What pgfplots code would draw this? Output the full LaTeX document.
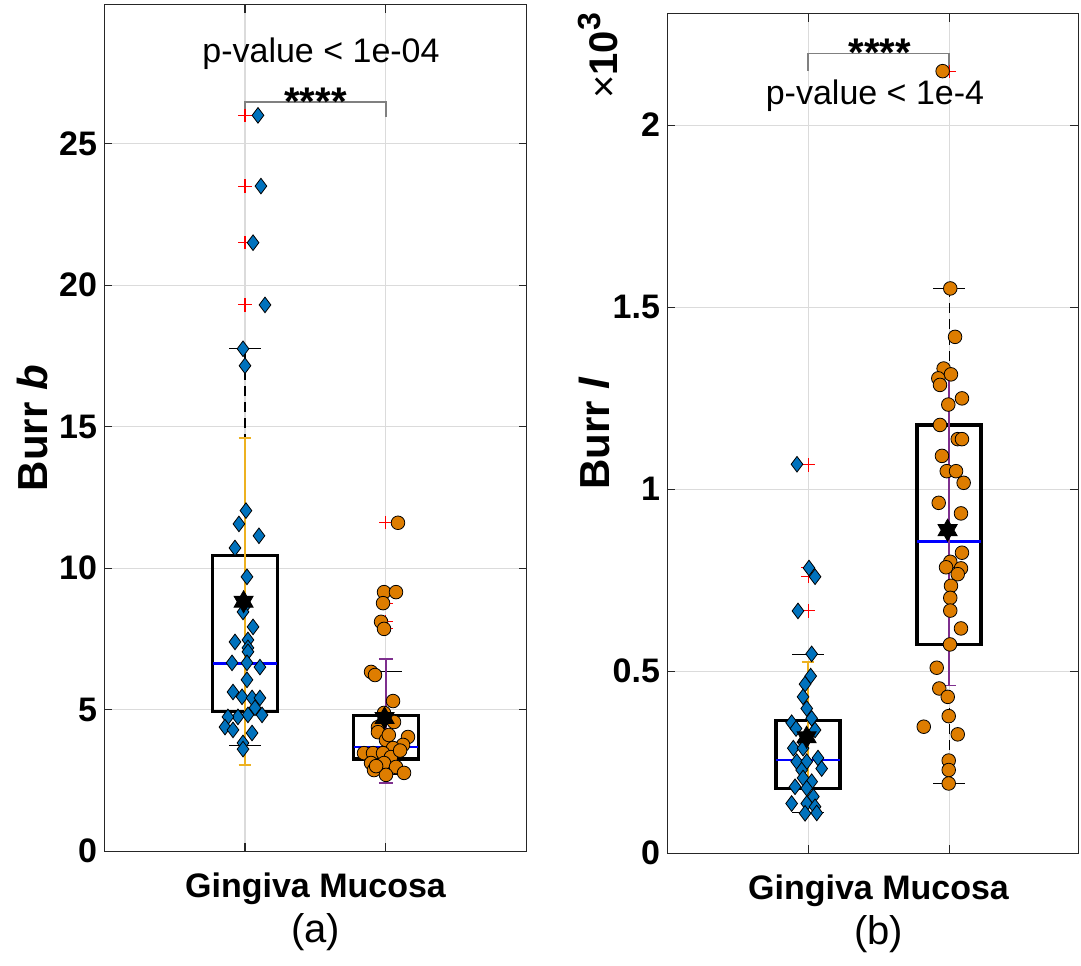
\documentclass[border=0pt]{standalone}
\usepackage{pgfplots}
\pgfplotsset{compat=1.18}
\usepackage{fontspec}
\setmainfont{Liberation Sans}
\definecolor{mblue}{RGB}{0,114,189}
\definecolor{morange}{RGB}{222,125,0}
\definecolor{myellow}{RGB}{237,177,32}
\definecolor{mpurple}{RGB}{126,47,142}
\definecolor{axgray}{RGB}{38,38,38}
\pgfdeclareplotmark{hexagram}{%
  \pgfpathmoveto{\pgfqpointpolar{90}{\pgfplotmarksize}}%
  \pgfpathlineto{\pgfqpointpolar{210}{\pgfplotmarksize}}%
  \pgfpathlineto{\pgfqpointpolar{330}{\pgfplotmarksize}}%
  \pgfpathclose
  \pgfpathmoveto{\pgfqpointpolar{270}{\pgfplotmarksize}}%
  \pgfpathlineto{\pgfqpointpolar{30}{\pgfplotmarksize}}%
  \pgfpathlineto{\pgfqpointpolar{150}{\pgfplotmarksize}}%
  \pgfpathclose
  \pgfusepathqfillstroke
}
\pgfplotsset{
  myaxis/.style={
    scale only axis, anchor=south west, clip=false,
    xmin=0, xtick={1,2}, xticklabels={,},
    axis line style={axgray, line width=0.5pt},
    tick style={axgray, line width=0.5pt},
    major tick length=4pt, tick align=inside,
    grid=major, major grid style={black!14, line width=0.5pt},
    yticklabel style={font=\bfseries\fontsize{17}{20}\selectfont},
    /pgf/number format/assume math mode=true,
  },
  mybox/.style={black, line width=1.6pt, line join=miter},
  mymed/.style={blue, line width=1.3pt},
  mywhisk/.style={black, line width=0.5pt, dash pattern=on 5pt off 3pt},
  mycap/.style={black, line width=0.5pt},
  myout/.style={only marks, mark=+, mark size=3.3pt, red, line width=0.5pt},
  mydia/.style={only marks, mark=diamond*, mark size=3.9pt, mark options={fill=mblue, draw=black, line width=0.4pt}},
  mycirc/.style={only marks, mark=*, mark size=3.4pt, mark options={fill=morange, draw=black, line width=0.4pt}},
  mystar/.style={only marks, mark=hexagram, mark size=5.5pt, mark options={fill=black, draw=black}},
  mybrack/.style={gray, line width=0.75pt},
}
\begin{document}
\begin{tikzpicture}
\path[use as bounding box] (0,0) rectangle (540.5pt,482.5pt);
% ---------------- panel (a)
\begin{axis}[myaxis, at={(52pt,57pt)}, width=211.5pt, height=423pt,
  xmax=3, ymin=0, ymax=29.9, ytick={0,5,10,15,20,25}]
% whiskers
\addplot[mywhisk] coordinates {(1,10.43) (1,17.75)};
\addplot[mywhisk] coordinates {(1,4.92) (1,3.72)};
\addplot[mycap] coordinates {(0.887,17.75) (1.113,17.75)};
\addplot[mycap] coordinates {(0.887,3.72) (1.113,3.72)};
\addplot[mywhisk] coordinates {(2,4.80) (2,6.33)};
\addplot[mywhisk] coordinates {(2,3.25) (2,2.69)};
\addplot[mycap] coordinates {(1.887,6.33) (2.113,6.33)};
\addplot[mycap] coordinates {(1.887,2.69) (2.113,2.69)};
% boxes
\addplot[mybox] coordinates {(1,4.92) (1.229,4.92) (1.229,10.43) (0.771,10.43) (0.771,4.92) (1,4.92)};
\addplot[mymed] coordinates {(0.771,6.62) (1.229,6.62)};
\addplot[mybox] coordinates {(2,3.25) (2.229,3.25) (2.229,4.80) (1.771,4.80) (1.771,3.25) (2,3.25)};
\addplot[mymed] coordinates {(1.771,3.68) (2.229,3.68)};
% outliers
\addplot[myout] coordinates {(1,26.0) (1,23.5) (1,21.5) (1,19.3) (2,11.6) (2,9.15) (2,8.76) (2,8.1) (2,7.85)};
% Gingiva points
\addplot[mydia] coordinates {
(1.092,26.0) (1.113,23.5) (1.057,21.5) (1.142,19.3) (0.986,17.75) (1.0,17.15)
(1.007,12.03) (0.957,11.56) (1.099,11.14) (0.929,10.71) (1.014,9.69)
(1.0,8.66) (0.986,8.45) (1.057,7.92) (0.929,7.39) (1.021,7.46) (1.021,7.18) (1.021,7.04)
(0.908,6.65) (1.014,6.65) (1.106,6.50) (1.014,6.05) (0.915,5.62) (0.979,5.45)
(1.050,5.41) (1.106,5.41) (1.071,5.06) (1.121,4.81) (1.021,4.81) (0.950,4.74)
(0.879,4.74) (0.858,4.38) (0.915,4.28) (1.050,4.17) (0.986,3.82) (0.986,3.60)};
% Mucosa points
\addplot[mycirc] coordinates {
(2.085,11.6) (1.986,9.15) (2.071,9.15) (1.979,8.76) (1.965,8.1) (1.986,7.85)
(1.894,6.33) (1.922,6.22) (2.050,5.30) (1.986,4.88) (2.057,4.56) (1.943,4.38)
(1.943,4.20) (2.156,4.03) (2.0,3.92) (2.121,3.75) (2.050,3.64) (1.844,3.46)
(1.908,3.46) (1.979,3.46) (2.035,3.32) (1.894,3.11) (1.986,3.11) (2.071,2.97)
(1.915,2.86) (2.0,2.69) (2.128,2.76) (2.10,3.55) (1.93,3.0) (2.02,4.1)};
% mean +- sd
\addplot[myellow, line width=0.8pt] coordinates {(1,3.05) (1,14.6)};
\addplot[myellow, line width=0.8pt] coordinates {(0.955,3.05) (1.045,3.05)};
\addplot[myellow, line width=0.8pt] coordinates {(0.955,14.6) (1.045,14.6)};
\addplot[mpurple, line width=0.8pt] coordinates {(2,2.41) (2,6.79)};
\addplot[mpurple, line width=0.8pt] coordinates {(1.95,2.41) (2.05,2.41)};
\addplot[mpurple, line width=0.8pt] coordinates {(1.95,6.79) (2.05,6.79)};
\addplot[mystar] coordinates {(0.99,8.81) (1.99,4.70)};
% bracket
\addplot[mybrack] coordinates {(1,25.95) (1,26.48) (2,26.48) (2,25.95)};
\node[anchor=base, font=\bfseries\fontsize{20}{20}\selectfont] at (axis cs:1.5,26.0) {****};
\node[anchor=base, font=\fontsize{17}{20}\selectfont] at (axis cs:1.539,27.87) {p-value < 1e-04};
\node[anchor=base, rotate=90, font=\bfseries\fontsize{21}{22}\selectfont] at ([xshift=-28pt]rel axis cs:0,0.5) {Burr \textit{b}};
\node[anchor=base, font=\bfseries\fontsize{17}{20}\selectfont] at ([yshift=-23pt]rel axis cs:0.5,0) {Gingiva Mucosa};
\node[anchor=base, font=\fontsize{20}{20}\selectfont] at ([yshift=-45.5pt]rel axis cs:0.5,0) {(a)};
\end{axis}
% ---------------- panel (b)
\begin{axis}[myaxis, at={(333.5pt,56pt)}, width=205.5pt, height=419.5pt,
  xmax=2.915, ymin=0, ymax=2.305, ytick={0,0.5,1,1.5,2}]
\addplot[mywhisk] coordinates {(1,0.363) (1,0.546)};
\addplot[mywhisk] coordinates {(1,0.178) (1,0.110)};
\addplot[mycap] coordinates {(0.887,0.546) (1.113,0.546)};
\addplot[mycap] coordinates {(0.887,0.110) (1.113,0.110)};
\addplot[mywhisk] coordinates {(2,1.176) (2,1.551)};
\addplot[mywhisk] coordinates {(2,0.573) (2,0.191)};
\addplot[mycap] coordinates {(1.887,1.551) (2.113,1.551)};
\addplot[mycap] coordinates {(1.887,0.191) (2.113,0.191)};
\addplot[mybox] coordinates {(1,0.178) (1.227,0.178) (1.227,0.363) (0.773,0.363) (0.773,0.178) (1,0.178)};
\addplot[mymed] coordinates {(0.773,0.255) (1.227,0.255)};
\addplot[mybox] coordinates {(2,0.573) (2.227,0.573) (2.227,1.176) (1.773,1.176) (1.773,0.573) (2,0.573)};
\addplot[mymed] coordinates {(1.773,0.855) (2.227,0.855)};
\addplot[myout] coordinates {(1,1.066) (1,0.783) (1,0.759) (1,0.665) (2,2.148)};
\addplot[mydia] coordinates {
(0.922,1.068) (1.007,0.783) (1.050,0.759) (0.929,0.665) (1.026,0.547) (1.019,0.486)
(0.979,0.464) (0.965,0.429) (0.991,0.397) (1.026,0.370) (0.884,0.358) (0.915,0.342)
(1.050,0.338) (0.965,0.305) (0.896,0.288) (0.965,0.288) (1.071,0.261) (0.920,0.251)
(0.991,0.251) (1.097,0.232) (0.955,0.228) (0.965,0.206) (1.026,0.196) (0.908,0.182)
(0.991,0.178) (1.038,0.155) (0.884,0.136) (0.991,0.136) (1.050,0.127) (0.979,0.109)
(1.062,0.110)};
\addplot[mycirc] coordinates {
(1.955,2.148) (2.009,1.551) (2.043,1.418) (1.962,1.331) (2.014,1.315) (1.924,1.304)
(1.936,1.286) (2.092,1.249) (1.995,1.232) (1.936,1.176) (2.062,1.137) (2.092,1.137)
(1.950,1.091) (1.984,1.049) (2.050,1.049) (2.104,1.017) (1.927,0.962) (2.085,0.933)
(2.092,0.825) (2.009,0.800) (1.979,0.785) (2.085,0.782) (2.062,0.766) (2.014,0.734)
(2.009,0.701) (2.009,0.666) (2.085,0.617) (2.007,0.573) (1.913,0.509) (1.931,0.452)
(1.991,0.429) (1.998,0.376) (1.821,0.347) (2.062,0.326) (1.998,0.254) (1.998,0.228)
(1.998,0.191)};
\addplot[myellow, line width=0.8pt] coordinates {(1,0.109) (1,0.524)};
\addplot[myellow, line width=0.8pt] coordinates {(0.955,0.109) (1.045,0.109)};
\addplot[myellow, line width=0.8pt] coordinates {(0.955,0.524) (1.045,0.524)};
\addplot[mpurple, line width=0.8pt] coordinates {(2,0.460) (2,1.309)};
\addplot[mpurple, line width=0.8pt] coordinates {(1.95,0.460) (2.05,0.460)};
\addplot[mpurple, line width=0.8pt] coordinates {(1.95,1.309) (2.05,1.309)};
\addplot[mystar] coordinates {(0.99,0.318) (1.99,0.887)};
\addplot[mybrack] coordinates {(1,2.149) (1,2.197) (2,2.197) (2,2.149)};
\node[anchor=base, font=\bfseries\fontsize{20}{20}\selectfont] at (axis cs:1.51,2.162) {****};
\node[anchor=base, font=\fontsize{17}{20}\selectfont] at (axis cs:1.475,2.055) {p-value < 1e-4};
\node[anchor=base, rotate=90, font=\bfseries\fontsize{21}{22}\selectfont] at ([xshift=-29pt]rel axis cs:0,0.5) {Burr \textit{l}};
\node[anchor=base, rotate=90, font=\fontsize{20}{20}\selectfont] at ([xshift=-25pt]rel axis cs:0,0.95) {×\textbf{10}\raisebox{0.42em}{\bfseries\fontsize{16}{16}\selectfont 3}};
\node[anchor=base, font=\bfseries\fontsize{17}{20}\selectfont] at ([yshift=-23pt]axis cs:1.5,0) {Gingiva Mucosa};
\node[anchor=base, font=\fontsize{20}{20}\selectfont] at ([yshift=-45.5pt]axis cs:1.5,0) {(b)};
\end{axis}
\end{tikzpicture}
\end{document}
